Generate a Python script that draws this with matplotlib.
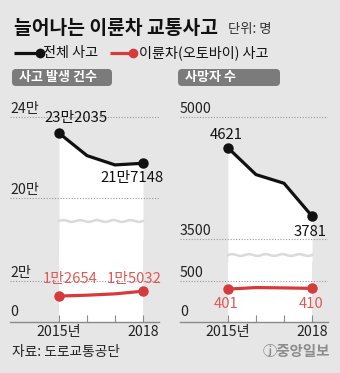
import matplotlib
matplotlib.use("Agg")
import matplotlib.pyplot as plt
from matplotlib.patches import FancyBboxPatch
import numpy as np

plt.rcParams['font.family'] = ['Noto Sans CJK KR', 'DejaVu Sans']

# ---- data ----
years = [2015, 2016, 2017, 2018]
acc_total = [232035, 220917, 216335, 217148]
acc_moto = [12654, 13076, 13730, 15032]
death_total = [4621, 4292, 4185, 3781]
death_moto = [401, 420, 416, 410]

acc_labels = ["23만2035", "21만7148", "1만2654", "1만5032"]
death_labels = ["4621", "3781", "401", "410"]
xtick_labels = ["2015년", "", "", "2018"]

BG = "#e6e6e6"
BLACK = "#111111"
RED = "#d63b3b"
RED_TXT = "#e05a55"
GRID = "#9a9a9a"
PILL = "#7b7b7b"

W, H = 340, 373
fig = plt.figure(figsize=(W / 100, H / 100), dpi=100, facecolor=BG)


def fax(x0, x1, y0, y1):
    """axes from pixel box (top-left origin)"""
    return fig.add_axes([x0 / W, 1 - y1 / H, (x1 - x0) / W, (y1 - y0) / H])


def style(ax, bottom=False):
    ax.set_facecolor("none")
    for s in ax.spines.values():
        s.set_visible(False)
    ax.set_yticks([])
    if bottom:
        ax.spines['bottom'].set_visible(True)
        ax.spines['bottom'].set_color("#8a8a8a")
        ax.spines['bottom'].set_linewidth(1.0)
        ax.set_xticks(years)
        ax.set_xticklabels(xtick_labels, fontsize=10.2, color="#222222")
        ax.tick_params(axis='x', direction='in', length=5, width=0.8,
                       color="#8a8a8a", pad=2)
    else:
        ax.set_xticks([])


def gridline(ax, val, label):
    ax.axhline(val, color=GRID, lw=0.8, ls=(0, (1, 1.5)), zorder=2)
    ax.annotate(label, (0, val), xycoords=('axes fraction', 'data'),
                xytext=(0, 1), textcoords='offset pixels',
                ha='left', va='bottom', fontsize=10.2, color="#222222")


def wave(ax, y, amp):
    xs = np.linspace(years[0], years[-1], 200)
    ys = y + amp * np.sin((xs - years[0]) / 0.6 * 2 * np.pi)
    ax.plot(xs, ys, color="#dadada", lw=1.8, zorder=1.5)


def panel(xl, xr, top_b, split, bot_b, top_lim, bot_lim, xlim,
          total, moto, top_grid, bot_grid, wave_y, wave_amp, labels, offs):
    axt = fax(xl, xr, top_b, split)
    axb = fax(xl, xr, split, bot_b)
    for ax in (axt, axb):
        ax.set_xlim(*xlim)
    axt.set_ylim(*top_lim)
    axb.set_ylim(*bot_lim)
    style(axt)
    style(axb, bottom=True)
    # white band below the total line
    axt.fill_between(years, total, top_lim[0], color="white", lw=0, zorder=1)
    axb.axvspan(years[0], years[-1], color="white", lw=0, zorder=1)
    wave(axt, wave_y, wave_amp)
    for v, lab in top_grid:
        gridline(axt, v, lab)
    for v, lab in bot_grid:
        gridline(axb, v, lab)
    axb.annotate("0", (0, 0), xycoords=('axes fraction', 'data'),
                 xytext=(0, 3), textcoords='offset pixels',
                 ha='left', va='bottom', fontsize=10.2, color="#222222")
    axt.plot(years, total, color=BLACK, lw=2.3, marker='o', ms=6.5,
             markevery=[0, 3], zorder=4, clip_on=False)
    axb.plot(years, moto, color=RED, lw=2.3, marker='o', ms=6.5,
             markevery=[0, 3], zorder=4, clip_on=False)
    pts = [(axt, years[0], total[0]), (axt, years[-1], total[-1]),
           (axb, years[0], moto[0]), (axb, years[-1], moto[-1])]
    for i, ((ax, x, y), lab, off) in enumerate(zip(pts, labels, offs)):
        ax.annotate(lab, (x, y), xytext=off, textcoords='offset pixels',
                    ha='center', va='center', fontsize=10.7,
                    color=BLACK if i < 2 else RED_TXT, zorder=5,
                    annotation_clip=False)
    return axt, axb


# left panel: accidents
panel(10, 159, 100, 240, 322,
      (179260, 248395), (0, 40000), (2013.25, 2018.57),
      acc_total, acc_moto,
      [(240000, "24만"), (200000, "20만")], [(20000, "2만")],
      188643, 450, acc_labels,
      [(17, 15), (-11, -15), (11, 17), (-9, 12)])

# right panel: deaths
panel(180, 328, 100, 262, 322,
      (3217.2, 5209), (0, 731.7), (2013.29, 2018.57),
      death_total, death_moto,
      [(5000, "5000"), (3500, "3500")], [(500, "500")],
      3303, 11, death_labels,
      [(-2, 13), (-2, -16), (-2, -15), (-1, -16)])

# ---- overlay for titles, legend, pills, footer ----
ov = fig.add_axes([0, 0, 1, 1])
ov.set_xlim(0, W)
ov.set_ylim(H, 0)
ov.axis('off')
ov.set_zorder(10)

ov.text(14, 28, "늘어나는 이륜차 교통사고", fontsize=13.9, fontweight='bold',
        ha='left', va='center', color="#111111")
ov.text(228, 29, "단위: 명", fontsize=9.6, ha='left', va='center',
        color="#333333")

# legend
ov.plot([14, 40], [53, 53], color=BLACK, lw=2.3, solid_capstyle='butt')
ov.plot([40], [53], 'o', color=BLACK, ms=6)
ov.text(43, 53, "전체 사고", fontsize=10.2, ha='left', va='center', color="#111111")
ov.plot([110, 133], [53, 53], color=RED, lw=2.3, solid_capstyle='butt')
ov.plot([133], [53], 'o', color=RED, ms=6)
ov.text(139, 53, "이륜차(오토바이) 사고", fontsize=10.2, ha='left', va='center',
        color="#111111")

# pills
for x0, x1, txt in [(12, 112, "사고 발생 건수"), (178, 280, "사망자 수")]:
    p = FancyBboxPatch((x0 + 4, 69 + 4), (x1 - x0) - 8, 17 - 8,
                       boxstyle="round,pad=4", fc=PILL, ec="none")
    ov.add_patch(p)
    ov.text(x0 + 7, 77.5, txt, fontsize=9.4, fontweight='bold', color="white",
            ha='left', va='center')

# footer
ov.text(12, 352, "자료: 도로교통공단", fontsize=9.9, ha='left', va='center',
        color="#222222")
ov.text(330, 352, "ⓙ중앙일보", fontsize=10.4, fontweight='bold', ha='right',
        va='center', color="#8c8c8c")

fig.savefig("out.png", dpi=100, facecolor=BG)
